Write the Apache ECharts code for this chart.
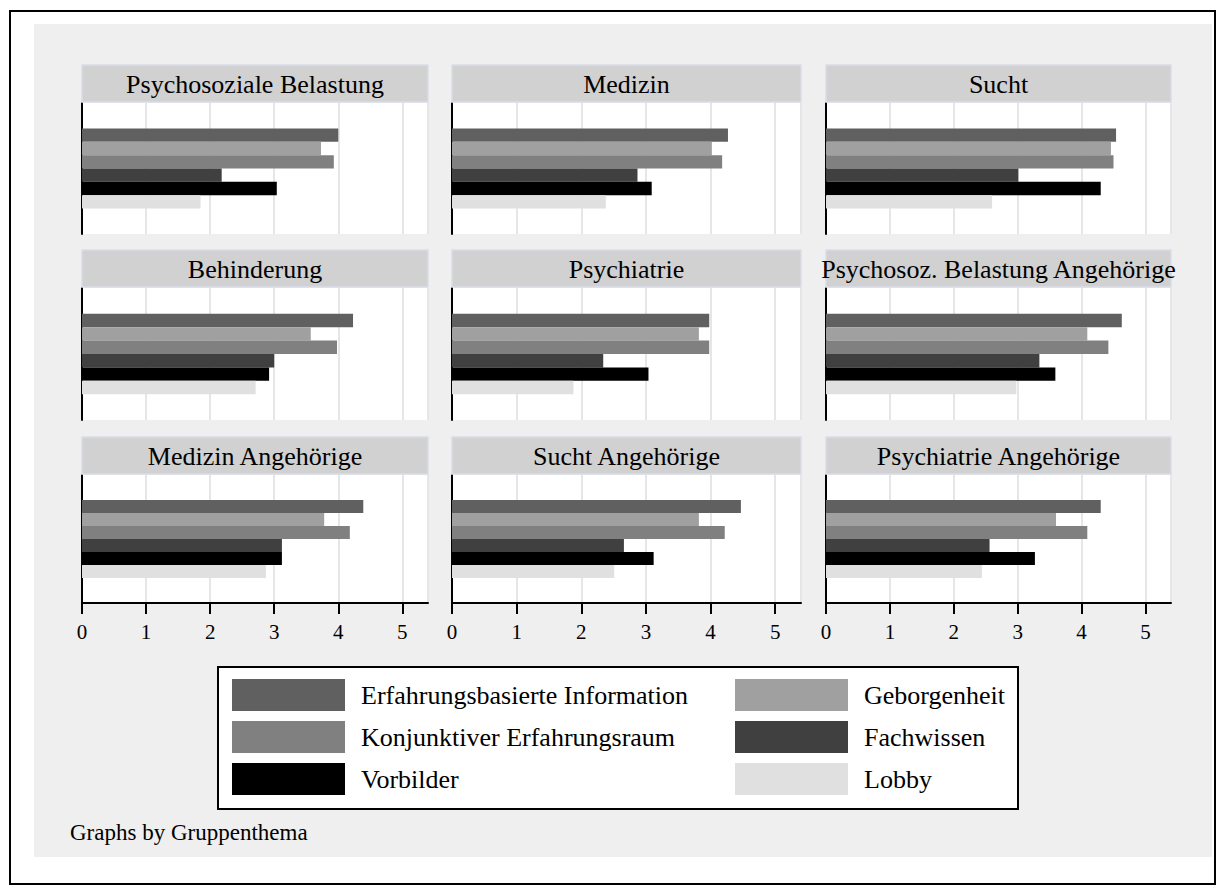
<!DOCTYPE html>
<html>
<head>
<meta charset="utf-8">
<script src="https://cdn.jsdelivr.net/npm/echarts@6/dist/echarts.min.js"></script>
<style>
html,body{margin:0;padding:0;background:#fff;}
#chart{width:1225px;height:895px;}
</style>
</head>
<body>
<div id="chart"></div>
<script>
// ---- data ----
const panels = ['Psychosoziale Belastung','Medizin','Sucht','Behinderung','Psychiatrie','Psychosoz. Belastung Angehörige','Medizin Angehörige','Sucht Angehörige','Psychiatrie Angehörige'];
const seriesNames = ['Erfahrungsbasierte Information','Geborgenheit','Konjunktiver Erfahrungsraum','Fachwissen','Vorbilder','Lobby'];
const erfahrung  = [4.00, 4.27, 4.54, 4.23, 3.98, 4.63, 4.39, 4.47, 4.30];
const geborgen   = [3.73, 4.02, 4.46, 3.57, 3.82, 4.09, 3.78, 3.82, 3.60];
const konjunktiv = [3.93, 4.18, 4.50, 3.98, 3.98, 4.42, 4.18, 4.22, 4.09];
const fachwissen = [2.18, 2.87, 3.01, 3.00, 2.34, 3.34, 3.12, 2.66, 2.56];
const vorbilder  = [3.04, 3.09, 4.30, 2.92, 3.04, 3.59, 3.12, 3.12, 3.27];
const lobby      = [1.85, 2.38, 2.60, 2.71, 1.88, 2.98, 2.87, 2.51, 2.44];
const tickLabels = ['0','1','2','3','4','5'];
const footnote = 'Graphs by Gruppenthema';

// ---- styles / layout ----
const values = [erfahrung, geborgen, konjunktiv, fachwissen, vorbilder, lobby];
const colors = ['#606060','#a0a0a0','#808080','#404040','#000000','#e0e0e0'];
const FONT = '"Liberation Serif", "DejaVu Serif", serif';
const colLeft = [82, 452, 826];
const colWidth = [346, 349, 345];
const plotTop = [103, 288, 475];
const plotH = [131, 132, 128];
const titleH = 38;

const grids = [], xAxes = [], yAxes = [], series = [], graphics = [];

graphics.push({type:'rect', shape:{x:10, y:11, width:1205, height:873}, style:{fill:'#ffffff', stroke:'#000', lineWidth:2}, z:-10});
graphics.push({type:'rect', shape:{x:34, y:24, width:1178, height:833}, style:{fill:'#efefef'}, z:-9});

panels.forEach((p, i) => {
  const r = Math.floor(i / 3), c = i % 3;
  const bottom = r === 2;
  grids.push({left: colLeft[c], top: plotTop[r], width: colWidth[c], height: plotH[r], show: true, backgroundColor: '#ffffff', borderWidth: 0});
  xAxes.push({
    type: 'value', gridIndex: i, min: 0, max: 5.4, interval: 1,
    axisLine: {show: bottom, onZero: false, lineStyle: {color: '#000', width: 2}},
    axisTick: {show: bottom, length: 11, lineStyle: {color: '#000', width: 2}},
    axisLabel: {show: bottom, showMaxLabel: false, margin: 18, color: '#000', fontSize: 21, fontFamily: FONT,
      formatter: v => tickLabels[Math.round(v)] !== undefined && Math.abs(v - Math.round(v)) < 1e-6 ? tickLabels[Math.round(v)] : ''},
    splitLine: {show: true, lineStyle: {color: '#e6e6e6', width: 2}}
  });
  yAxes.push({
    type: 'category', gridIndex: i, data: [p], inverse: true,
    axisLine: {show: true, lineStyle: {color: '#000', width: 2}},
    axisTick: {show: false}, axisLabel: {show: false}, splitLine: {show: false}
  });
  seriesNames.forEach((n, k) => {
    series.push({
      type: 'bar', name: n, xAxisIndex: i, yAxisIndex: i,
      data: [values[k][i]], barGap: '0%', barCategoryGap: '39%',
      itemStyle: {color: colors[k]}, silent: true, animation: false
    });
  });
  // title strip
  graphics.push({type:'rect', shape:{x: colLeft[c], y: plotTop[r] - titleH, width: colWidth[c], height: titleH - 1},
    style:{fill:'#d1d1d1', stroke:'#d9dde8', lineWidth:1.5}, z: 5});
  graphics.push({type:'text', x: colLeft[c] + colWidth[c] / 2, y: plotTop[r] - titleH / 2,
    style:{text: p, fill:'#000', font: '26px ' + FONT, textAlign:'center', textVerticalAlign:'middle'}, z: 6});
});

// legend box
graphics.push({type:'rect', shape:{x:218, y:667, width:800, height:142}, style:{fill:'#ffffff', stroke:'#000', lineWidth:2}, z:1});
graphics.push({type:'text', x:70, y:832, style:{text: footnote, fill:'#000', font:'23px ' + FONT, textVerticalAlign:'middle'}});

const legendCommon = {
  orient: 'vertical', itemWidth: 113, itemHeight: 32, itemGap: 10, padding: 0, icon: 'rect',
  selectedMode: false, z: 10,
  textStyle: {fontSize: 26, fontFamily: FONT, color: '#000', padding: [0, 0, 0, 11]}
};

const chart = echarts.init(document.getElementById('chart'), null, {renderer: 'svg'});
chart.setOption({
  animation: false,
  backgroundColor: '#ffffff',
  grid: grids, xAxis: xAxes, yAxis: yAxes, series: series,
  legend: [
    Object.assign({}, legendCommon, {left: 232, top: 679, data: [seriesNames[0], seriesNames[2], seriesNames[4]]}),
    Object.assign({}, legendCommon, {left: 735, top: 679, data: [seriesNames[1], seriesNames[3], seriesNames[5]]})
  ],
  graphic: graphics
});
</script>
</body>
</html>
